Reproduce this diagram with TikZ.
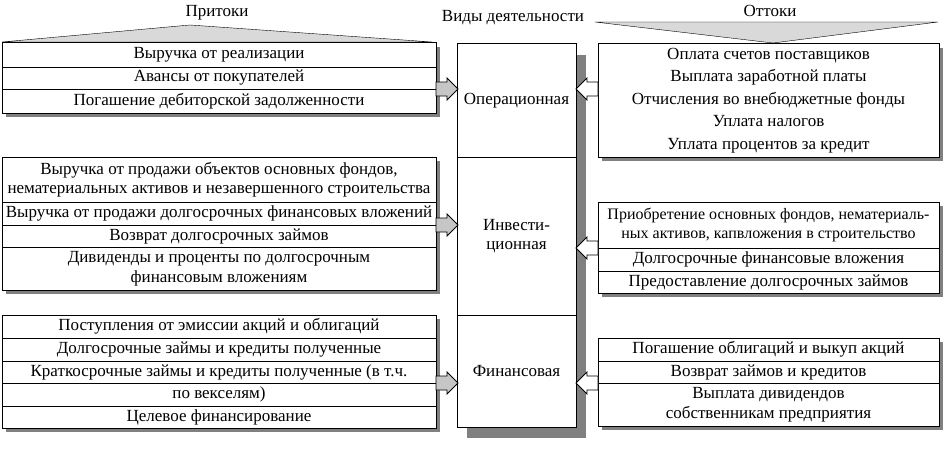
\documentclass[tikz,border=0pt]{standalone}
\usepackage{fontspec}
\setmainfont{Liberation Serif}
\usetikzlibrary{positioning,shadows,backgrounds}
\tikzstyle{row} = [draw, fill=white, line width=1pt, inner sep=0pt, outer sep=0pt, align=center, drop shadow={shadow xshift=4pt, shadow yshift=-4pt, fill=black!50, opacity=1}]
\tikzstyle{lrow} = [row, minimum width=434pt]
\tikzstyle{rrow} = [row, minimum width=341pt]
\tikzstyle{kind} = [draw, fill=white, line width=1pt, minimum width=119pt, inner sep=0pt, outer sep=0pt, align=center]
\tikzstyle{inarrow} = [draw, line width=0.8pt, fill=gray!45]
\tikzstyle{outarrow} = [draw, line width=0.8pt, fill=white, xscale=-1]
\tikzset{flow/.pic={\path[pic actions] (0,-7) -- (11,-7) -- (11,-11) -- (22,0) -- (11,11) -- (11,7) -- (0,7) -- cycle;}}
\begin{document}
\begin{tikzpicture}[x=1pt, y=-1pt, font=\fontsize{17}{19.5}\selectfont]
    \useasboundingbox (0,0) rectangle (949,452);
    \draw [fill=gray!30] (2,42) -- (190,25) -- (432,42) -- cycle;
    \draw [fill=gray!30] (595,22) -- (938,22) -- (773,43) -- cycle;
    \node (inflow) at (217,13) {Притоки};
    \node (kinds) at (513,18) {Виды деятельности};
    \node (outflow) at (770,11) {Оттоки};

    \node [lrow, minimum height=24pt, anchor=north west] (lop1) at (2,43) {Выручка от реализации};
    \node [lrow, minimum height=22pt, below=0pt of lop1] (lop2) {Авансы от покупателей};
    \node [lrow, minimum height=24pt, below=0pt of lop2] (lop3) {Погашение дебиторской задолженности};

    \node [lrow, minimum height=45pt, anchor=north west] (linv1) at (2,157) {Выручка от продажи объектов основных фондов,\\нематериальных активов и незавершенного строительства};
    \node [lrow, minimum height=23pt, below=0pt of linv1] (linv2) {Выручка от продажи долгосрочных финансовых вложений};
    \node [lrow, minimum height=22pt, below=0pt of linv2] (linv3) {Возврат долгосрочных займов};
    \node [lrow, minimum height=43pt, below=0pt of linv3] (linv4) {Дивиденды и проценты по долгосрочным\\финансовым вложениям};

    \node [lrow, minimum height=23pt, anchor=north west] (lfin1) at (2,315) {Поступления от эмиссии акций и облигаций};
    \node [lrow, minimum height=23pt, below=0pt of lfin1] (lfin2) {Долгосрочные займы и кредиты полученные};
    \node [lrow, minimum height=22pt, below=0pt of lfin2] (lfin3) {Краткосрочные займы и кредиты полученные (в т.ч.};
    \node [lrow, minimum height=23pt, below=0pt of lfin3] (lfin4) {по векселям)};
    \node [lrow, minimum height=22pt, below=0pt of lfin4] (lfin5) {Целевое финансирование};

    \node [kind, minimum height=113pt, anchor=north west] (op) at (457,44) {Операционная};
    \node [kind, minimum height=158pt, below=0pt of op] (inv) {Инвести-\\ционная};
    \node [kind, minimum height=112pt, below=0pt of inv] (fin) {Финансовая};
    \begin{scope}[on background layer]
        \fill [black!50] ([shift={(10pt,-11pt)}]op.north west) rectangle ([shift={(10pt,-11pt)}]fin.south east);
    \end{scope}

    \node [rrow, minimum height=113pt, anchor=north west, font=\fontsize{17}{22.5}\selectfont] (rop) at (598,44) {Оплата счетов поставщиков\\Выплата заработной платы\\Отчисления во внебюджетные фонды\\Уплата налогов\\Уплата процентов за кредит};

    \node [rrow, minimum height=46pt, anchor=north west, font=\fontsize{16}{19.5}\selectfont] (rinv1) at (598,202) {Приобретение основных фондов, нематериаль-\\ных активов, капвложения в строительство};
    \node [rrow, minimum height=23pt, below=0pt of rinv1] (rinv2) {Долгосрочные финансовые вложения};
    \node [rrow, minimum height=22pt, below=0pt of rinv2] (rinv3) {Предоставление долгосрочных займов};

    \node [rrow, minimum height=23pt, anchor=north west] (rfin1) at (598,338) {Погашение облигаций и выкуп акций};
    \node [rrow, minimum height=22pt, below=0pt of rfin1] (rfin2) {Возврат займов и кредитов};
    \node [rrow, minimum height=43pt, below=0pt of rfin2] (rfin3) {Выплата дивидендов\\собственникам предприятия};

    \pic [inarrow] at (lop2.south east) {flow};
    \pic [inarrow] at (linv2.south east) {flow};
    \pic [inarrow] at (lfin3.south east) {flow};
    \pic [outarrow] at (rop.west |- lop2.south) {flow};
    \pic [outarrow] at (rinv1.south west) {flow};
    \pic [outarrow] at (rfin2.south west) {flow};
\end{tikzpicture}
\end{document}
